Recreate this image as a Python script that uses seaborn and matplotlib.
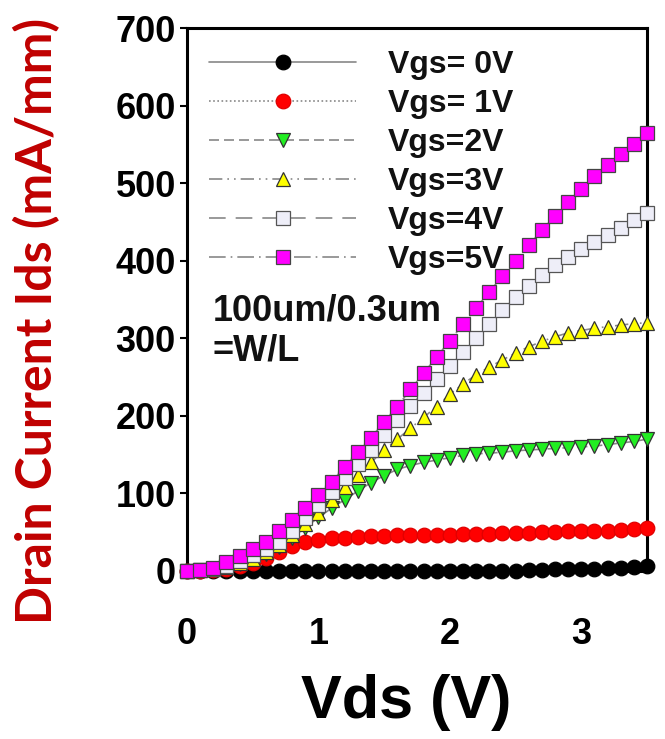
import numpy as np
import pandas as pd
import matplotlib
matplotlib.use("Agg")
import matplotlib.pyplot as plt
import seaborn as sns

# ---- data ----
vds = [round(0.1 * i, 1) for i in range(36)]  # 0.0 .. 3.5 V

ids_0v = [0, 0, 0, 0, 0, 0, 0, 0, 0, 0, 0, 0, 0, 0, 0, 0, 0, 0, 0, 0,
          0, 0, 0, 0, 0, 0.5, 1, 1, 2, 2, 3, 3, 4, 4, 5, 6]
ids_1v = [0, 0, 1, 3, 6, 10, 17, 25, 32, 37, 40, 42, 43, 44, 45, 45, 46, 46,
          47, 47, 47, 48, 48, 48, 49, 49, 49, 50, 50, 51, 51, 52, 52, 53, 54, 55]
ids_2v = [0, 1, 2, 5, 9, 15, 22, 31, 43, 56, 69, 81, 92, 103, 114, 123, 131, 136,
          140, 143, 146, 149, 151, 152, 153, 155, 156, 157, 158, 159, 160, 161, 163, 165, 167, 170]
ids_3v = [0, 1, 2, 5, 10, 16, 24, 33, 46, 60, 75, 92, 108, 124, 140, 156, 170, 184,
          198, 212, 228, 241, 253, 263, 272, 281, 289, 296, 302, 307, 310, 313, 315, 317, 319, 320]
ids_4v = [0, 1, 3, 7, 13, 20, 28, 37, 52, 68, 85, 102, 120, 138, 156, 175, 195, 213,
          230, 247, 264, 282, 300, 318, 336, 353, 367, 381, 394, 405, 415, 424, 433, 442, 452, 461]
ids_5v = [0, 1, 4, 11, 19, 28, 38, 51, 66, 81, 98, 115, 134, 153, 172, 192, 212, 234,
          255, 276, 297, 318, 339, 360, 380, 400, 420, 439, 458, 476, 493, 509, 524, 538, 551, 564]

labels = ["Vgs= 0V", "Vgs= 1V", "Vgs=2V", "Vgs=3V", "Vgs=4V", "Vgs=5V"]
series = [ids_0v, ids_1v, ids_2v, ids_3v, ids_4v, ids_5v]

x_ticks = [0, 1, 2, 3]
y_ticks = [0, 100, 200, 300, 400, 500, 600, 700]

# ---- styles ----
styles = [
    dict(marker="o", mfc="black", mec="black", ls="-"),
    dict(marker="o", mfc="#ff0000", mec="#e00000", ls=(0, (1, 1.5))),
    dict(marker="v", mfc="#22ee22", mec="#333333", ls=(0, (6, 3))),
    dict(marker="^", mfc="#ffff00", mec="#333333", ls=(0, (8, 3, 1, 3, 1, 3))),
    dict(marker="s", mfc="#eeeef8", mec="#555555", ls=(0, (10, 6))),
    dict(marker="s", mfc="#ff00ff", mec="#444444", ls=(0, (10, 3, 1, 3))),
]

sns.set_style("ticks")
plt.rcParams["font.family"] = ["Liberation Sans", "DejaVu Sans"]
plt.rcParams["font.weight"] = "bold"
plt.rcParams["text.color"] = "black"

fig = plt.figure(figsize=(6.65, 7.39), dpi=100)
ax = fig.add_axes([187 / 665, 1 - 571 / 739, (647 - 187) / 665, (571 - 28) / 739])

for ids, lab, st in zip(series, labels, styles):
    df = pd.DataFrame({"Vds": vds, "Ids": ids})
    sns.lineplot(data=df, x="Vds", y="Ids", ax=ax, color="#888888",
                 linestyle=st["ls"], linewidth=1.2,
                 marker=st["marker"], markersize=10.5,
                 markerfacecolor=st["mfc"], markeredgecolor=st["mec"],
                 markeredgewidth=0.9, label=lab, clip_on=False, zorder=3)

ax.set_xlim(0, 3.5)
ax.set_ylim(0, 700)
ax.set_xticks(x_ticks)
ax.set_yticks(y_ticks)
ax.tick_params(axis="both", labelsize=26, width=1.5, length=5, direction="out",
               color="black", labelcolor="black")
ax.tick_params(axis="y", pad=3)
ax.tick_params(axis="x", pad=33, length=0)
for lbl in ax.get_xticklabels() + ax.get_yticklabels():
    lbl.set_fontweight("bold")
for sp in ax.spines.values():
    sp.set_visible(True)
    sp.set_linewidth(2.2)
    sp.set_color("black")

ax.set_xlabel("Vds (V)", fontsize=44, fontweight="bold", color="black")
ax.xaxis.set_label_coords(0.476, -0.19)
ax.set_ylabel("Drain Current Ids (mA/mm)", fontsize=36, fontweight="bold",
              color="#c00000", family=["Lato", "DejaVu Sans"])
ax.yaxis.set_label_coords(-0.275, 0.46)

ax.text(0.055, 0.442, "100um/0.3um\n=W/L", transform=ax.transAxes,
        fontsize=26, fontweight="bold", ha="left", va="center",
        linespacing=1.15, color="#111111")

leg = ax.legend(loc="upper left", frameon=False, handlelength=4.6,
                handletextpad=1.0, labelspacing=0.28, borderaxespad=0.3,
                prop={"size": 23, "weight": "bold"}, numpoints=1)
for t in leg.get_texts():
    t.set_color("#111111")

fig.savefig("out.png", dpi=100)
